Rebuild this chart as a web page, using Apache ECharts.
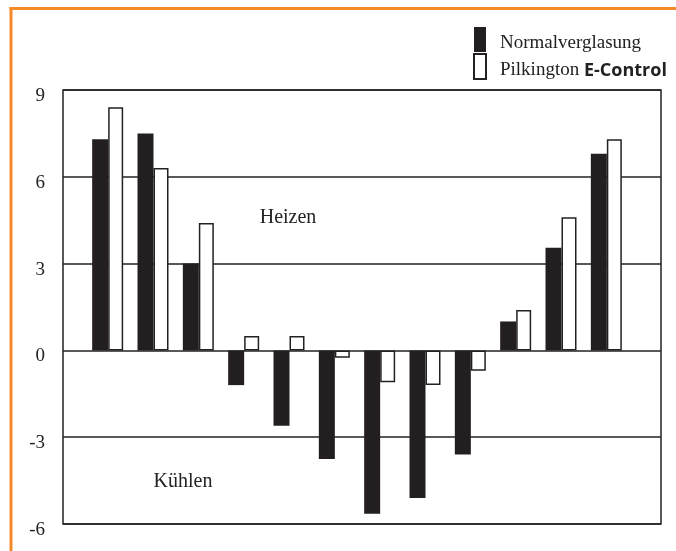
<!DOCTYPE html>
<html>
<head>
<meta charset="utf-8">
<script src="https://cdn.jsdelivr.net/npm/echarts@6/dist/echarts.min.js"></script>
<style>
html, body { margin: 0; padding: 0; background: #fff; }
#chart { width: 676px; height: 551px; }
</style>
</head>
<body>
<div id="chart"></div>
<script>
var months = ['Jan', 'Feb', 'Mär', 'Apr', 'Mai', 'Jun', 'Jul', 'Aug', 'Sep', 'Okt', 'Nov', 'Dez'];
var normal = [7.3, 7.5, 3.0, -1.2, -2.6, -3.75, -5.65, -5.1, -3.6, 1.0, 3.55, 6.8];
var eControl = [8.4, 6.3, 4.4, 0.5, 0.5, -0.25, -1.1, -1.2, -0.7, 1.4, 4.6, 7.3];
var yTicks = { min: -6, max: 9, interval: 3 };

var serif = '"Liberation Serif", "DejaVu Serif", serif';
var dom = document.getElementById('chart');
var myChart = echarts.init(dom);

var option = {
    animation: false,
    backgroundColor: '#fff',
    legend: {
        orient: 'vertical',
        left: 473,
        top: 27,
        padding: 0,
        itemWidth: 12,
        itemHeight: 25,
        itemGap: 0,
        icon: 'rect',
        data: ['Normalverglasung', 'Pilkington E-Control'],
        formatter: function (name) {
            var i = name.indexOf('E-Control');
            if (i < 0) {
                return '{t|' + name + '}';
            }
            return '{t|' + name.slice(0, i) + '}{b|E-Control}';
        },
        textStyle: {
            fontFamily: serif,
            fontSize: 19,
            color: '#222',
            rich: {
                t: {
                    fontFamily: serif,
                    fontSize: 19,
                    color: '#222',
                    padding: [8, 0, 0, 9]
                },
                b: {
                    fontFamily: '"Open Sans", "Liberation Sans", sans-serif',
                    fontWeight: 'bold',
                    fontSize: 18,
                    color: '#222',
                    padding: [8, 0, 0, 0]
                }
            }
        }
    },
    grid: [
        // frame + y axis
        { left: 63, right: 15, top: 90, bottom: 27, show: true, borderColor: '#222', borderWidth: 1.5, backgroundColor: 'transparent' },
        // bars
        { left: 85, right: 47, top: 90, bottom: 27 }
    ],
    xAxis: [
        { gridIndex: 0, type: 'category', data: months, show: false },
        { gridIndex: 1, type: 'category', data: months, show: false }
    ],
    yAxis: [
        {
            gridIndex: 0,
            type: 'value',
            min: yTicks.min,
            max: yTicks.max,
            interval: yTicks.interval,
            axisLine: { show: false },
            axisTick: { show: false },
            axisLabel: {
                margin: 18,
                formatter: '{a|{value}}',
                rich: {
                    a: {
                        fontFamily: serif,
                        fontSize: 19,
                        color: '#222',
                        padding: [12, 0, 0, 0]
                    }
                }
            },
            splitLine: { lineStyle: { color: '#222', width: 1.5 } }
        },
        {
            gridIndex: 1,
            type: 'value',
            min: yTicks.min,
            max: yTicks.max,
            interval: yTicks.interval,
            show: false,
            splitLine: { show: false }
        }
    ],
    series: [
        {
            name: 'Normalverglasung',
            type: 'bar',
            xAxisIndex: 1,
            yAxisIndex: 1,
            barWidth: 16,
            barGap: 0,
            itemStyle: { color: '#231f20' },
            data: normal
        },
        {
            name: 'Pilkington E-Control',
            type: 'bar',
            xAxisIndex: 1,
            yAxisIndex: 1,
            barWidth: 15,
            barGap: 0,
            itemStyle: { color: '#fff', borderColor: '#222', borderWidth: 1.5 },
            data: eControl
        }
    ],
    graphic: [
        { type: 'line', shape: { x1: 9.5, y1: 8.5, x2: 676, y2: 8.5 }, style: { stroke: '#f58a2b', lineWidth: 3 } },
        { type: 'line', shape: { x1: 11, y1: 7, x2: 11, y2: 551 }, style: { stroke: '#f58a2b', lineWidth: 3 } },
        { type: 'text', x: 288, y: 218, style: { text: 'Heizen', fontFamily: serif, fontSize: 20, fill: '#222', align: 'center', verticalAlign: 'middle' } },
        { type: 'text', x: 183, y: 482, style: { text: 'Kühlen', fontFamily: serif, fontSize: 20, fill: '#222', align: 'center', verticalAlign: 'middle' } }
    ]
};

myChart.setOption(option);

window.addEventListener('resize', function () {
    myChart.resize();
});
</script>
</body>
</html>
